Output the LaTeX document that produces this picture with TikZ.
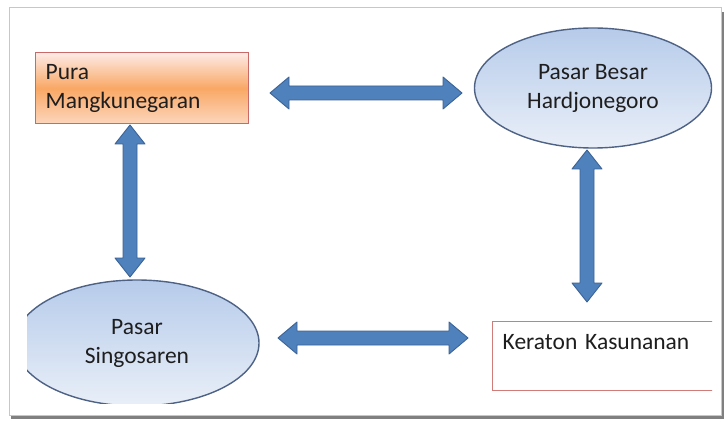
\documentclass[tikz,border=0pt]{standalone}
\usepackage{fontspec}
\setmainfont{Carlito}
\usetikzlibrary{calc,shapes.geometric}
\definecolor{arrowfill}{HTML}{4F81BD}
\definecolor{arrowline}{HTML}{3B6396}
\definecolor{elltop}{HTML}{B6CBEA}
\definecolor{ellbot}{HTML}{E9EFF8}
\definecolor{ellline}{HTML}{4E6285}
\definecolor{boxred}{HTML}{C0504D}
\definecolor{orgtop}{HTML}{FDEBE6}
\definecolor{orgmid}{HTML}{F9A865}
\definecolor{orgbot}{HTML}{FCD6BC}
\definecolor{txt}{HTML}{1E1E1E}
\tikzset{
  blockarrow/.style={fill=arrowfill, draw=arrowline, line width=0.9pt, line join=round},
  ellnode/.style={ellipse, draw=ellline, line width=1.4pt, top color=elltop, bottom color=ellbot, align=center, inner sep=0pt},
  orangebox/.style={rectangle, draw=boxred!85, line width=1.4pt, top color=orgtop, bottom color=orgbot, middle color=orgmid, align=left, inner xsep=10pt, inner ysep=0pt},
  whitebox/.style={rectangle, draw=boxred!75, line width=1.4pt, fill=white, align=left, inner xsep=10pt, inner ysep=4pt},
}
\newcommand{\harrow}[2]{%
  \draw[blockarrow] let \p1=(#1), \p2=(#2) in
   (\x1,\y1) -- (\x1+19pt,\y1+16pt) -- (\x1+19pt,\y1+7pt) -- (\x2-19pt,\y2+7pt)
   -- (\x2-19pt,\y2+16pt) -- (\x2,\y2) -- (\x2-19pt,\y2-16pt) -- (\x2-19pt,\y2-7pt)
   -- (\x1+19pt,\y1-7pt) -- (\x1+19pt,\y1-16pt) -- cycle;}
\newcommand{\varrow}[2]{%
  \draw[blockarrow] let \p1=(#1), \p2=(#2) in
   (\x1,\y1) -- (\x1+15pt,\y1-19pt) -- (\x1+7pt,\y1-19pt) -- (\x2+7pt,\y2+19pt)
   -- (\x2+15pt,\y2+19pt) -- (\x2,\y2) -- (\x2-15pt,\y2+19pt) -- (\x2-7pt,\y2+19pt)
   -- (\x1-7pt,\y1-19pt) -- (\x1-15pt,\y1-19pt) -- cycle;}
\begin{document}
\begin{tikzpicture}[x=1pt,y=-1pt, font=\fontsize{23.5}{29}\selectfont, text=txt]
\useasboundingbox (0,0) rectangle (725,422);
\fill[white] (0,0) rectangle (725,422);
% frame with shadow
\fill[black!50] (11,12) rectangle (724,419);
\fill[white] (9,8) rectangle (721,415);
\draw[black!22, line width=1pt] (9,8) rectangle (721,415);
\begin{scope}
\clip (27,28) rectangle (712,403);
\node[orangebox, anchor=north west, text width=193pt, minimum height=71pt] (pura) at (35,52) {Pura\\Mangkunegaran};
\node[ellnode, minimum width=237pt, minimum height=120pt] (besar) at (593,88) {Pasar Besar\\Hardjonegoro};
\node[ellnode, minimum width=244pt, minimum height=126pt] (singo) at (137,343) {Pasar\\Singosaren};
\node[whitebox, anchor=north west, text width=260pt, text height=24pt, text depth=37pt] (keraton) at (492,321) {Keraton Kasunanan};
\end{scope}
% arrow end points
\coordinate (t1) at (270,93);
\coordinate (t2) at (462,93);
\coordinate (b1) at (278,338);
\coordinate (b2) at (468,338);
\coordinate (l1) at (130,125);
\coordinate (l2) at (130,277);
\coordinate (r1) at (587,150);
\coordinate (r2) at (587,302);
\harrow{t1}{t2}
\harrow{b1}{b2}
\varrow{l1}{l2}
\varrow{r1}{r2}
\end{tikzpicture}
\end{document}
